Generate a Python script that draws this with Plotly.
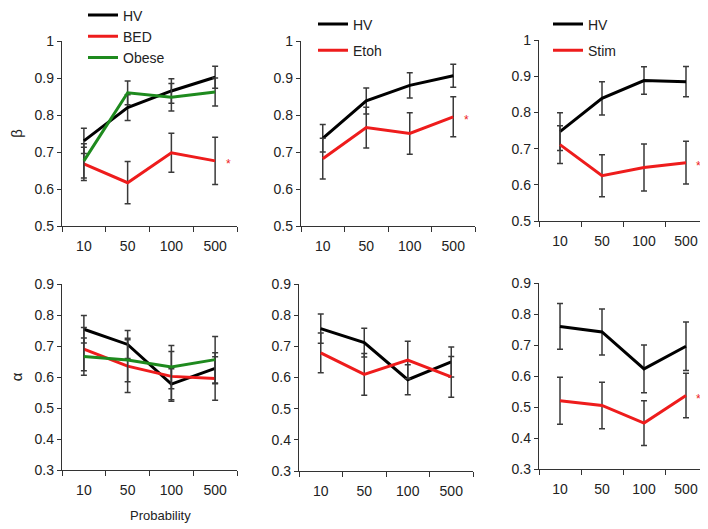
import plotly.graph_objects as go

probs = ["10", "50", "100", "500"]

# beta, top row
beta_hv_bed = [0.730, 0.820, 0.865, 0.902]
beta_hv_bed_err = [0.034, 0.035, 0.033, 0.030]
beta_bed = [0.668, 0.617, 0.698, 0.676]
beta_bed_err = [0.045, 0.057, 0.053, 0.064]
beta_obese = [0.676, 0.860, 0.848, 0.862]
beta_obese_err = [0.046, 0.032, 0.037, 0.038]

beta_hv_etoh = [0.737, 0.838, 0.880, 0.906]
beta_hv_etoh_err = [0.037, 0.035, 0.034, 0.031]
beta_etoh = [0.682, 0.766, 0.750, 0.795]
beta_etoh_err = [0.055, 0.055, 0.056, 0.054]

beta_hv_stim = [0.747, 0.839, 0.888, 0.885]
beta_hv_stim_err = [0.052, 0.046, 0.038, 0.042]
beta_stim = [0.711, 0.625, 0.648, 0.661]
beta_stim_err = [0.052, 0.058, 0.065, 0.059]

# alpha, bottom row
alpha_hv_bed = [0.754, 0.705, 0.577, 0.628]
alpha_hv_bed_err = [0.044, 0.045, 0.050, 0.050]
alpha_bed = [0.690, 0.635, 0.602, 0.595]
alpha_bed_err = [0.070, 0.085, 0.080, 0.070]
alpha_obese = [0.666, 0.655, 0.632, 0.656]
alpha_obese_err = [0.060, 0.070, 0.070, 0.075]

alpha_hv_etoh = [0.757, 0.712, 0.593, 0.650]
alpha_hv_etoh_err = [0.047, 0.046, 0.048, 0.048]
alpha_etoh = [0.679, 0.610, 0.656, 0.602]
alpha_etoh_err = [0.064, 0.067, 0.060, 0.065]

alpha_hv_stim = [0.760, 0.742, 0.623, 0.696]
alpha_hv_stim_err = [0.074, 0.074, 0.077, 0.078]
alpha_stim = [0.520, 0.505, 0.448, 0.537]
alpha_stim_err = [0.076, 0.075, 0.072, 0.072]

BLACK = "#000000"
RED = "#ee1c1c"
GREEN = "#1e8a1e"
FONT = "Liberation Sans, Arial, sans-serif"

# the page has an 8px body margin, so the figure is a bit smaller
OFF = 8
W, H = 708 - OFF, 529 - OFF

def px_x(a, b):
    return [(a - OFF) / W, (b - OFF) / W]

def px_y(top, bottom):
    return [1 - (bottom - OFF) / H, 1 - (top - OFF) / H]

def fx(p):
    return (p - OFF) / W

def fy(p):
    return 1 - (p - OFF) / H

# axis number, x domain, y domain, y range, legend, series
panels = [
    (1, px_x(62, 237), px_y(41, 226), [0.5, 1], "legend",
     [("HV", beta_hv_bed, beta_hv_bed_err, BLACK),
      ("BED", beta_bed, beta_bed_err, RED),
      ("Obese", beta_obese, beta_obese_err, GREEN)]),
    (2, px_x(301, 475), px_y(41, 226), [0.5, 1], "legend2",
     [("HV", beta_hv_etoh, beta_hv_etoh_err, BLACK),
      ("Etoh", beta_etoh, beta_etoh_err, RED)]),
    (3, px_x(539, 707), px_y(40, 221), [0.5, 1], "legend3",
     [("HV", beta_hv_stim, beta_hv_stim_err, BLACK),
      ("Stim", beta_stim, beta_stim_err, RED)]),
    (4, px_x(62, 237), px_y(284, 470), [0.3, 0.9], None,
     [("HV", alpha_hv_bed, alpha_hv_bed_err, BLACK),
      ("BED", alpha_bed, alpha_bed_err, RED),
      ("Obese", alpha_obese, alpha_obese_err, GREEN)]),
    (5, px_x(299, 473), px_y(284, 471), [0.3, 0.9], None,
     [("HV", alpha_hv_etoh, alpha_hv_etoh_err, BLACK),
      ("Etoh", alpha_etoh, alpha_etoh_err, RED)]),
    (6, px_x(539, 707), px_y(283, 469), [0.3, 0.9], None,
     [("HV", alpha_hv_stim, alpha_hv_stim_err, BLACK),
      ("Stim", alpha_stim, alpha_stim_err, RED)]),
]

# red star next to the last point of the significant groups
starred = {1: beta_bed, 2: beta_etoh, 3: beta_stim, 6: alpha_stim}

fig = go.Figure()
layout = {}

for n, xdom, ydom, yrange, leg, series in panels:
    sfx = "" if n == 1 else str(n)
    for name, vals, err, col in series:
        fig.add_trace(go.Scatter(
            x=probs, y=vals, name=name, mode="lines",
            line=dict(color=col, width=3),
            error_y=dict(type="data", array=err, color="#3a3a3a",
                         thickness=1.5, width=3),
            xaxis="x" + sfx, yaxis="y" + sfx,
            showlegend=leg is not None, legend=leg or "legend",
            legendgroup=name + sfx,
        ))
    layout["xaxis" + sfx] = dict(
        domain=xdom, anchor="y" + sfx, type="category",
        range=[-0.5, 3.5], tickson="boundaries", ticks="outside",
        ticklen=5, tickwidth=1.3, tickcolor="#333", ticklabelstandoff=7,
        showline=True, linecolor="#333", linewidth=1.3,
        showgrid=False, zeroline=False,
        tickfont=dict(size=14, color="#222", family=FONT),
    )
    layout["yaxis" + sfx] = dict(
        domain=ydom, anchor="x" + sfx, range=yrange, dtick=0.1,
        ticks="outside", ticklen=4, tickwidth=1.3, tickcolor="#333",
        showline=True, linecolor="#333", linewidth=1.3,
        showgrid=False, zeroline=False,
        tickfont=dict(size=14, color="#222", family=FONT),
    )
    if n in starred:
        fig.add_annotation(
            x=3.3, y=starred[n][-1], xref="x" + sfx, yref="y" + sfx,
            text="*", showarrow=False, yshift=-3,
            font=dict(size=12, color=RED, family=FONT),
        )

layout["yaxis"]["title"] = dict(text="β", standoff=14,
                                 font=dict(size=15, color="#222", family=FONT))
layout["yaxis4"]["title"] = dict(text="α", standoff=14,
                                  font=dict(size=15, color="#222", family=FONT))

leg_style = dict(font=dict(size=14, color="#222", family=FONT),
                 bgcolor="rgba(0,0,0,0)", xanchor="left", yanchor="top",
                 traceorder="grouped", itemwidth=30)
layout["legend"] = dict(leg_style, x=fx(83), y=1 + 8.5 / H, tracegroupgap=0)
layout["legend2"] = dict(leg_style, x=fx(313), y=fy(8.5), tracegroupgap=5)
layout["legend3"] = dict(leg_style, x=fx(548), y=fy(8.5), tracegroupgap=5)

fig.add_annotation(
    x=fx(160), y=fy(515), xref="paper", yref="paper",
    xanchor="center", yanchor="middle",
    text="Probability", showarrow=False,
    font=dict(size=13, color="#222", family=FONT),
)

fig.update_layout(
    width=W, height=H,
    margin=dict(l=0, r=0, t=0, b=0, autoexpand=False),
    paper_bgcolor="white", plot_bgcolor="white",
    **layout,
)

fig.write_html("out.html")
